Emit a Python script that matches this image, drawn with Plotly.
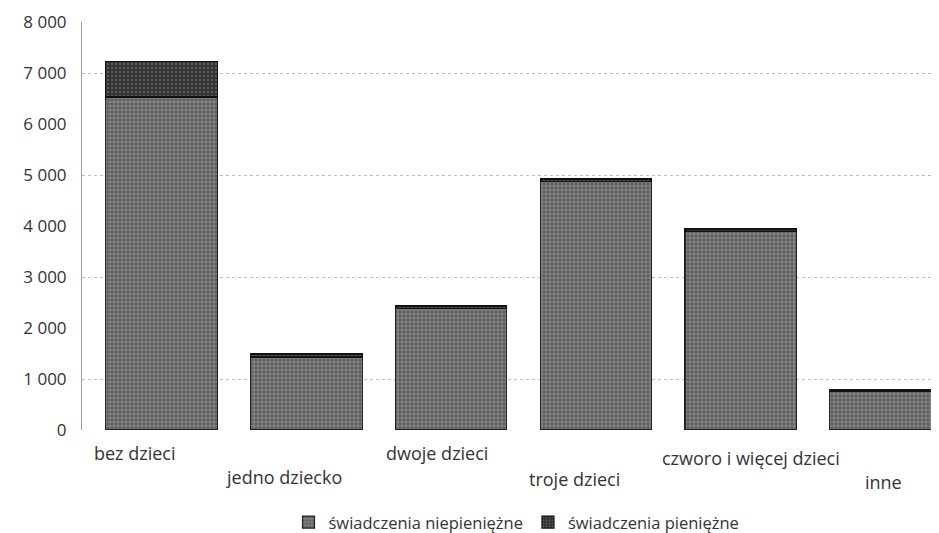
import plotly.graph_objects as go

categories = ["bez dzieci", "jedno dziecko", "dwoje dzieci", "troje dzieci",
              "czworo i więcej dzieci", "inne"]
niepieniezne = [6530, 1430, 2390, 4870, 3900, 765]
pieniezne = [690, 60, 40, 50, 40, 20]
series_names = ["świadczenia niepieniężne", "świadczenia pieniężne"]
ytick_vals = [0, 1000, 2000, 3000, 4000, 5000, 6000, 7000, 8000]

# label placement style (pixels): staggered rows and small horizontal offsets
label_yshift = [-9, -33, -9, -35, -14, -38]
label_xshift = [-27, -22, -14, -21, 10, -2]

FONT = "Open Sans"
fig = go.Figure()
fig.add_trace(go.Bar(
    x=categories, y=niepieniezne, name=series_names[0],
    marker=dict(color="#808080", line=dict(color="#222222", width=1.2),
                pattern=dict(shape=".", fgcolor="#333333", size=4, solidity=0.4)),
))
fig.add_trace(go.Bar(
    x=categories, y=pieniezne, name=series_names[1],
    marker=dict(color="#333333", line=dict(color="#111111", width=1.2),
                pattern=dict(shape=".", fgcolor="#888888", size=4, solidity=0.25)),
))

for i, c in enumerate(categories):
    fig.add_annotation(x=c, y=0, xref="x", yref="y", text=c, showarrow=False,
                       yanchor="top", xanchor="center",
                       xshift=label_xshift[i], yshift=label_yshift[i],
                       font=dict(family=FONT, size=18, color="#333333"))

fig.update_layout(
    barmode="stack",
    bargap=0.23,
    width=939, height=533,
    margin=dict(l=74, r=8, t=14, b=111, autoexpand=False),
    paper_bgcolor="white", plot_bgcolor="white",
    separators=", ",
    font=dict(family=FONT, size=17, color="#333333"),
    showlegend=True,
    legend=dict(orientation="h", x=0.507, xanchor="center",
                yref="container", y=0.035, yanchor="middle",
                font=dict(size=16.5, color="#333333"), traceorder="normal"),
    xaxis=dict(
        range=[-0.55, 5.37], showticklabels=False, automargin=False,
        showgrid=False, showline=False, ticks="",
    ),
    yaxis=dict(
        range=[0, 8000], tickvals=ytick_vals, tickformat=",d", automargin=False,
        showgrid=False,
        minor=dict(tick0=1000, dtick=2000, showgrid=True, gridcolor="#bdbdbd",
                   griddash="dot", gridwidth=1, ticks=""),
        showline=True, linecolor="#9a9a9a", linewidth=1,
        zeroline=False, ticks="", ticklabelstandoff=11, tickfont=dict(size=17),
    ),
)
fig.write_html("out.html")
